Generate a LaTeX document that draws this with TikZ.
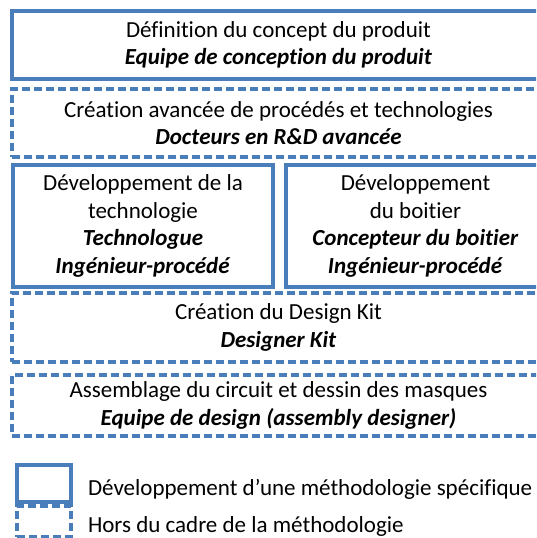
\documentclass[tikz,border=0pt]{standalone}
\usepackage{fontspec}
\setmainfont{Carlito}[Ligatures={NoCommon}]
\definecolor{boxblue}{HTML}{4A7EBB}
\begin{document}
\begin{tikzpicture}[x=1pt,y=-1pt,
  every node/.style={inner sep=0pt, outer sep=0pt, font=\fontsize{23}{27.5}\selectfont},
  solidbox/.style={draw=boxblue, line width=3.2pt, rectangle, align=center},
  dashbox/.style={draw=boxblue, line width=3.2pt, rectangle, align=center, dash pattern=on 8pt off 4pt}]
\useasboundingbox (0,0) rectangle (536,538);
\clip (0,0) rectangle (536,538);
\node[solidbox, minimum width=533pt, minimum height=68pt] (b1) at (278.5,45)
  {Définition du concept du produit\\ \textbf{\textit{Equipe de conception du produit}}};
\node[dashbox, minimum width=533pt, minimum height=68pt] (b2) at (278.5,123)
  {Création avancée de procédés et technologies\\ \textbf{\textit{Docteurs en R\&D avancée}}};
\node[solidbox, minimum width=260pt, minimum height=122pt] (b3) at (143,226)
  {Développement de la\\ technologie\\ \textbf{\textit{Technologue}}\\ \textbf{\textit{Ingénieur-procédé}}};
\node[solidbox, minimum width=259pt, minimum height=122pt] (b4) at (415.5,226)
  {Développement\\ du boitier\\ \textbf{\textit{Concepteur du boitier}}\\ \textbf{\textit{Ingénieur-procédé}}};
\node[dashbox, minimum width=533pt, minimum height=69pt] (b5) at (278.5,327.5)
  {Création du Design Kit\\ \textbf{\textit{Designer Kit}}};
\node[dashbox, minimum width=533pt, minimum height=61pt] (b6) at (278.5,405.5)
  {Assemblage du circuit et dessin des masques\\ \textbf{\textit{Equipe de design (assembly designer)}}};
\node[solidbox, minimum width=54pt, minimum height=37pt] (l1) at (44,483.5) {};
\node[dashbox, minimum width=54pt, minimum height=31pt] (l2) at (44,521.5) {};
\node[anchor=west] (t1) at (88,489) {Développement d’une méthodologie spécifique};
\node[anchor=west] (t2) at (88,526) {Hors du cadre de la méthodologie};
\end{tikzpicture}
\end{document}
